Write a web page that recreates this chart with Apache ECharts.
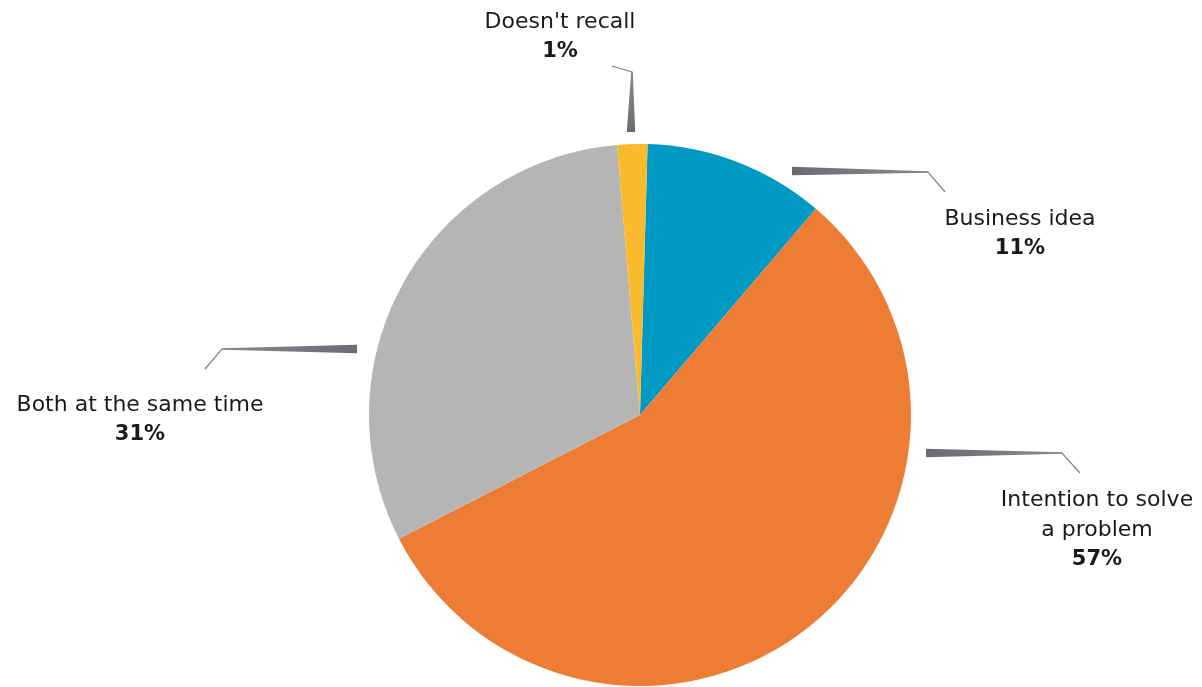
<!DOCTYPE html>
<html>
<head>
<meta charset="utf-8">
<script src="https://cdn.jsdelivr.net/npm/echarts@6/dist/echarts.min.js"></script>
<style>
html,body{margin:0;padding:0;background:#fff;}
#c{width:1202px;height:687px;}
</style>
</head>
<body>
<div id="c"></div>
<script>
// Data (slice shares as drawn) and the printed labels
const categories = ['Business idea', 'Intention to solve a problem', 'Both at the same time', "Doesn't recall"];
const values = [10.8, 56.2, 31.2, 1.8];
const percentLabels = ['11%', '57%', '31%', '1%'];
const displayNames = ['Business idea', 'Intention to solve\na problem', 'Both at the same time', "Doesn't recall"];
const colors = ['#0099C4', '#ED7D35', '#B5B5B5', '#F9BA2E'];

// Layout of labels and leader lines (pixels)
const labelPos = [[1020, 234], [1097, 530], [140, 420], [560, 37]];
const leaderPts = [
  [[792, 171], [928, 172], [945, 192]],
  [[926, 453], [1062, 453], [1080, 473]],
  [[357, 349], [222, 349], [205, 369]],
  [[631, 132], [632, 72], [612, 66]]
];

const FONT = '"DejaVu Sans"';

const chart = echarts.init(document.getElementById('c'), null, {renderer: 'canvas'});

const taper = leaderPts.map(function (p) {
  const a = p[0], b = p[1];
  const dx = b[0] - a[0], dy = b[1] - a[1];
  const len = Math.sqrt(dx * dx + dy * dy);
  const nx = -dy / len, ny = dx / len;
  const w0 = 4.2, w1 = 0.8;
  return {
    type: 'polygon',
    z: 100,
    silent: true,
    shape: {points: [
      [a[0] + nx * w0, a[1] + ny * w0],
      [b[0] + nx * w1, b[1] + ny * w1],
      [b[0] - nx * w1, b[1] - ny * w1],
      [a[0] - nx * w0, a[1] - ny * w0]
    ]},
    style: {
      fill: new echarts.graphic.LinearGradient(a[0], a[1], b[0], b[1], [
        {offset: 0, color: '#6b6b70'},
        {offset: 1, color: '#8a8a8e'}
      ], true)
    }
  };
});

chart.setOption({
  backgroundColor: '#ffffff',
  animation: false,
  graphic: taper,
  series: [{
    type: 'pie',
    center: [640, 415],
    radius: 271,
    startAngle: 88.4,
    clockwise: true,
    avoidLabelOverlap: false,
    itemStyle: {borderWidth: 0},
    emphasis: {disabled: true},
    data: categories.map(function (c, i) {
      return {name: c, value: values[i], itemStyle: {color: colors[i]}};
    }),
    label: {
      show: true,
      position: 'outside',
      formatter: function (p) {
        return '{n|' + displayNames[p.dataIndex].split('\n').join('}\n{n|') + '}\n{p|' + percentLabels[p.dataIndex] + '}';
      },
      align: 'center',
      rich: {
        n: {fontFamily: FONT, fontSize: 22, fontWeight: 'normal', color: '#1a1a1a', lineHeight: 30, align: 'center'},
        p: {fontFamily: FONT, fontSize: 21, fontWeight: 'bold', color: '#1a1a1a', lineHeight: 30, align: 'center'}
      }
    },
    labelLine: {
      show: true,
      lineStyle: {color: '#808085', width: 1.2}
    },
    labelLayout: function (params) {
      const i = params.dataIndex;
      return {
        x: labelPos[i][0],
        y: labelPos[i][1],
        align: 'center',
        verticalAlign: 'middle',
        labelLinePoints: leaderPts[i]
      };
    }
  }]
});
</script>
</body>
</html>
